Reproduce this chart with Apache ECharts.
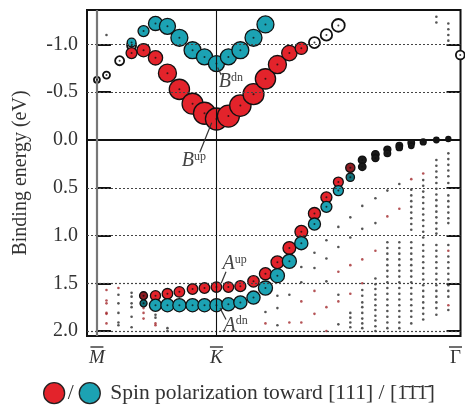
<!DOCTYPE html>
<html><head><meta charset="utf-8">
<script src="https://cdn.jsdelivr.net/npm/echarts@6/dist/echarts.min.js"></script>
<style>html,body{margin:0;padding:0;background:#fff}#c{width:465px;height:408px}</style>
</head><body><div id="c"></div>
<script>
// ---------- data (k along M-K-Γ path: M=0, K=1, Γ=3; E = binding energy, eV) ----------
const xTickVals = [0, 1, 3];
const xTickNames = ['M', 'K', 'Γ'];
const yTickVals = [-1.0, -0.5, 0.0, 0.5, 1.0, 1.5, 2.0];
const dottedE = [-1.0, -0.5, 0.5, 1.0, 1.5, 2.0];

// B surface band, [111] spin (red)
const bUpK = [0.29,0.39,0.49,0.59,0.69,0.80,0.90,1.00,1.10,1.20,1.31,1.41,1.51,1.61,1.71];
const bUpE = [-0.91,-0.94,-0.86,-0.70,-0.53,-0.38,-0.28,-0.22,-0.25,-0.36,-0.48,-0.64,-0.79,-0.91,-0.96];
const bUpW = [0.50,0.60,0.65,0.82,0.92,0.95,1.00,1.00,1.00,0.97,0.95,0.92,0.82,0.70,0.56];
// B surface band, [-1-1-1] spin (teal)
const bDnK = [0.29,0.39,0.49,0.59,0.69,0.80,0.90,1.00,1.10,1.20,1.31,1.41];
const bDnE = [-1.02,-1.14,-1.22,-1.19,-1.07,-0.94,-0.87,-0.80,-0.87,-0.94,-1.07,-1.21];
const bDnW = [0.40,0.50,0.64,0.73,0.77,0.77,0.73,0.73,0.73,0.77,0.77,0.77];
// unpolarized surface weight (open circles)
const openK = [0.00,0.08,0.19,0.29,1.82,1.92,2.02,3.04];
const openE = [-0.63,-0.68,-0.83,-0.99,-1.02,-1.10,-1.20,-0.89];
const openW = [0.27,0.32,0.41,0.41,0.50,0.52,0.58,0.40];
// A surface band, [111] spin (red)
const aUpK = [0.49,0.59,0.69,0.80,0.90,1.00,1.10,1.20,1.31,1.41,1.51,1.61,1.71,1.82,1.92,2.02];
const aUpE = [1.63,1.61,1.59,1.56,1.55,1.54,1.54,1.53,1.48,1.40,1.28,1.13,0.96,0.77,0.60,0.44];
const aUpW = [0.46,0.48,0.48,0.48,0.48,0.48,0.48,0.50,0.52,0.55,0.58,0.58,0.58,0.55,0.50,0.45];
const aUpDarkK = [0.39, 2.12];
const aUpDarkE = [1.63, 0.29];
const aUpDarkW = [0.36, 0.42];
// A surface band, [-1-1-1] spin (teal)
const aDnK = [0.49,0.59,0.69,0.80,0.90,1.00,1.10,1.20,1.31,1.41,1.51,1.61,1.71,1.82,1.92,2.02];
const aDnE = [1.73,1.73,1.73,1.73,1.73,1.73,1.72,1.70,1.65,1.55,1.42,1.27,1.08,0.88,0.70,0.53];
const aDnW = [0.55,0.60,0.60,0.60,0.60,0.60,0.60,0.60,0.60,0.64,0.64,0.64,0.60,0.55,0.50,0.46];
const aDnDarkK = [0.39, 2.12];
const aDnDarkE = [1.71, 0.39];
const aDnDarkW = [0.32, 0.38];
// weakly polarized resonance (black filled)
const blackK = [2.22,2.33,2.43,2.53,2.63,2.73,2.84,2.94,2.22,2.33,2.43,2.53,2.63];
const blackE = [0.21,0.15,0.10,0.06,0.03,0.02,0.00,-0.01,0.28,0.19,0.14,0.08,0.06];
const blackW = [0.36,0.34,0.32,0.30,0.30,0.27,0.25,0.23,0.34,0.32,0.30,0.28,0.25];
// bulk-like states (small dots), per k column
const bulkColK = [0.08,0.18,0.29,0.39,0.49,0.59,1.41,1.51,1.61,1.71,1.82,1.92,2.02,2.12,2.22,2.33,2.43,2.53,2.63,2.73,2.84,2.94];
const bulkBlackE = [
  [-1.10],
  [1.62,1.71,1.81,1.91,1.94],
  [1.60,1.64,1.71,1.75,1.85,1.96],
  [],
  [1.83,1.86],
  [1.97,2.00],
  [1.80],
  [1.63,1.76,1.94],
  [1.62],
  [1.33,1.49],
  [1.18,1.34],
  [1.05,1.24,1.48],
  [0.91,1.12,1.62,1.93],
  [0.81,1.02,1.81,1.86,1.91,1.96],
  [0.69,0.93,1.57,1.63,1.70,1.75,1.81,1.87,1.92,1.97],
  [0.61,0.87,1.45,1.51,1.56,1.62,1.67,1.73,1.78,1.84,1.89,1.95,2.00],
  [0.53,1.07,1.13,1.19,1.25,1.31,1.37,1.43,1.49,1.55,1.61,1.67,1.73,1.79,1.85,1.91,1.97],
  [0.46,1.07,1.13,1.19,1.25,1.31,1.37,1.43,1.49,1.55,1.61,1.67,1.73,1.79,1.85,1.91,1.97],
  [0.52,0.58,0.64,0.70,0.76,0.82,0.88,0.94,1.07,1.13,1.19,1.25,1.31,1.37,1.43,1.49,1.55,1.61,1.67,1.73,1.79,1.85,1.92],
  [0.42,0.48,0.54,0.60,0.66,0.72,0.78,0.84,0.90,0.96,1.02,1.10,1.16,1.22,1.28,1.34,1.40,1.46,1.52,1.58,1.64,1.70,1.76,1.82,1.88],
  [-1.29,-1.23,0.21,0.27,0.33,0.39,0.45,0.51,0.57,0.63,0.69,0.75,0.81,0.87,0.93,0.98,1.10,1.16,1.22,1.28,1.34,1.40,1.46,1.52,1.58,1.64,1.70,1.76,1.83],
  [-1.22,-1.16,-1.10,-1.04,0.14,0.20,0.26,0.32,0.38,0.45,0.58,0.64,0.70,0.76,0.82,0.87,1.10,1.22,1.28,1.34,1.40,1.46,1.52,1.58,1.64,1.78]
];
const bulkRedE = [
  [1.57,1.68,1.71,1.81,1.82,1.92],
  [1.55],
  [],
  [1.76,1.81,1.87],
  [1.92,1.94],
  [],
  [1.92],
  [],
  [1.91],
  [1.69,1.91],
  [1.58,1.82],
  [1.75,2.00],
  [1.38,1.69],
  [1.31,1.61],
  [1.25,1.50],
  [1.16],
  [0.80],
  [0.72],
  [0.41],
  [0.35],
  [],
  [1.16,1.73]
];
const annotations = [
  {t:'B', s:'dn', k:1.02, E:-0.61, from:[1.01,-0.76], to:[1.04,-0.68]},
  {t:'B', s:'up', k:0.71, E:0.22,  from:[0.96,-0.18], to:[0.86,0.13]},
  {t:'A', s:'up', k:1.05, E:1.30,  from:[1.04,1.50],  to:[1.08,1.38]},
  {t:'A', s:'dn', k:1.06, E:1.94,  from:[1.03,1.76],  to:[1.08,1.88]}
];
const legendUp = '/';
const legendDn = 'Spin polarization toward [111] / [1\u03041\u03041\u0304]';

// ---------- styling ----------
const FONT = '"Liberation Serif","Times New Roman","DejaVu Serif",serif';
const RED = '#e3232b', TEAL = '#1ca2b3', DRED = '#8e1c22', DTEAL = '#12707a';
const SIZE = 22;

const zip = (K, E, W) => K.map((k, i) => W ? [k, E[i], W[i]] : [k, E[i]]);
const cols = (K, EE) => { const out = []; K.forEach((k, i) => EE[i].forEach(e => out.push([k, e]))); return out; };

function circleSeries(name, K, E, W, fill, z, bw) {
  return {
    name, type: 'scatter', data: zip(K, E, W), z,
    symbol: 'circle', symbolSize: v => v[2] * SIZE,
    itemStyle: {color: fill, borderColor: '#111', borderWidth: bw || 1.3, opacity: 1},
    emphasis: {disabled: true}, silent: true
  };
}

const allK = [].concat(bUpK, bDnK, aUpK, aDnK, aUpDarkK, aDnDarkK, blackK, openK);
const allE = [].concat(bUpE, bDnE, aUpE, aDnE, aUpDarkE, aDnDarkE, blackE, openE);

const chart = echarts.init(document.getElementById('c'), null, {renderer: 'canvas'});
const yBase = {
  type: 'value', inverse: true, min: -1.361, max: 2.052,
  axisLine: {show: false}, splitLine: {show: false}
};
chart.setOption({
  animation: false,
  backgroundColor: '#fff',
  grid: {left: 87, top: 10, right: 2, bottom: 72, show: true, borderColor: '#111', borderWidth: 2},
  xAxis: {
    type: 'value', min: -0.083, max: 3.042,
    axisLine: {show: false}, axisTick: {show: false}, splitLine: {show: false},
    axisLabel: {
      customValues: xTickVals, margin: 9,
      formatter: v => {
        const i = xTickVals.indexOf(v);
        const n = xTickNames[i];
        return '{bar|}\n' + (n === 'Γ' ? '{up|' + n + '}' : '{it|' + n + '}');
      },
      rich: {
        bar: {width: 13, height: 1.4, backgroundColor: '#333', lineHeight: 4},
        it: {fontFamily: FONT, fontStyle: 'italic', fontSize: 19, color: '#333', lineHeight: 18},
        up: {fontFamily: FONT, fontSize: 19, color: '#333', lineHeight: 18}
      }
    }
  },
  yAxis: [
    Object.assign({}, yBase, {
      position: 'left',
      name: 'Binding energy (eV)', nameLocation: 'middle', nameGap: 56,
      nameTextStyle: {fontFamily: FONT, fontSize: 20, color: '#333'},
      axisTick: {show: true, inside: true, length: 14, customValues: yTickVals, lineStyle: {color: '#111', width: 2}},
      axisLabel: {customValues: yTickVals, formatter: v => v.toFixed(1), fontFamily: FONT, fontSize: 20, color: '#333', margin: 9}
    }),
    Object.assign({}, yBase, {
      position: 'right',
      axisTick: {show: true, inside: true, length: 14, customValues: yTickVals, lineStyle: {color: '#111', width: 2}},
      axisLabel: {show: false}
    })
  ],
  legend: {
    left: 43, top: 382, padding: 0, itemWidth: 21, itemHeight: 21, itemGap: 5,
    selectedMode: false,
    data: [
      {name: 'up', icon: 'circle', itemStyle: {color: RED, borderColor: '#222', borderWidth: 1.3}},
      {name: 'dn', icon: 'circle', itemStyle: {color: TEAL, borderColor: '#222', borderWidth: 1.3}}
    ],
    formatter: n => n === 'up' ? '{a|' + legendUp + '}' : '{b|' + legendDn + '}',
    textStyle: {
      fontFamily: FONT, fontSize: 21.5, color: '#333',
      rich: {
        a: {fontFamily: FONT, fontSize: 21.5, color: '#333', padding: [0, 0, 0, -2]},
        b: {fontFamily: FONT, fontSize: 21.5, color: '#333', padding: [0, 0, 0, 5]}
      }
    }
  },
  series: [
    {
      name: 'bulk', type: 'scatter', data: cols(bulkColK, bulkBlackE), z: 1,
      symbol: 'circle', symbolSize: 2.6, itemStyle: {color: '#2a2a2a'}, silent: true,
      markLine: {
        silent: true, symbol: 'none', label: {show: false}, animation: false,
        data: [].concat(
          dottedE.map(e => ({yAxis: e, lineStyle: {type: [2, 2], color: '#444', width: 1.2}})),
          [{yAxis: 0, lineStyle: {type: 'solid', color: '#111', width: 2}},
           {xAxis: 0, lineStyle: {type: 'solid', color: '#777', width: 2.2}},
           {xAxis: 1, lineStyle: {type: 'solid', color: '#111', width: 1.1}}]
        )
      }
    },
    {name: 'bulkRed', type: 'scatter', data: cols(bulkColK, bulkRedE), z: 1,
     symbol: 'circle', symbolSize: 2.6, itemStyle: {color: '#a3282c'}, silent: true},
    circleSeries('open', openK, openE, openW, '#fff', 2, 1.8),
    circleSeries('up', bUpK, bUpE, bUpW, RED, 3),
    circleSeries('dn', bDnK, bDnE, bDnW, TEAL, 4),
    circleSeries('aUp', aUpK, aUpE, aUpW, RED, 3),
    circleSeries('aUpDark', aUpDarkK, aUpDarkE, aUpDarkW, DRED, 3),
    circleSeries('aDn', aDnK, aDnE, aDnW, TEAL, 4),
    circleSeries('aDnDark', aDnDarkK, aDnDarkE, aDnDarkW, DTEAL, 4),
    circleSeries('black', blackK, blackE, blackW, '#1a1a1a', 4),
    {name: 'centers', type: 'scatter', data: zip(allK, allE), z: 5,
     symbol: 'circle', symbolSize: 2, itemStyle: {color: '#111'}, silent: true}
  ]
});

// annotations placed in data space
const px = p => chart.convertToPixel({xAxisIndex: 0, yAxisIndex: 0}, p);
const g = [];
annotations.forEach(a => {
  const p1 = px(a.from), p2 = px(a.to), pt = px([a.k, a.E]);
  g.push({type: 'line', shape: {x1: p1[0], y1: p1[1], x2: p2[0], y2: p2[1]}, style: {stroke: '#333', lineWidth: 1.2}, z: 20});
  g.push({type: 'text', x: pt[0], y: pt[1], z: 20, style: {
    text: '{i|' + a.t + '}{s|' + a.s + '}', verticalAlign: 'middle', align: 'left',
    rich: {
      i: {fontFamily: FONT, fontStyle: 'italic', fontSize: 20, fill: '#444', lineHeight: 20},
      s: {fontFamily: FONT, fontSize: 12, fill: '#444', lineHeight: 12, verticalAlign: 'top'}
    }
  }});
});
chart.setOption({graphic: g});
</script></body></html>
